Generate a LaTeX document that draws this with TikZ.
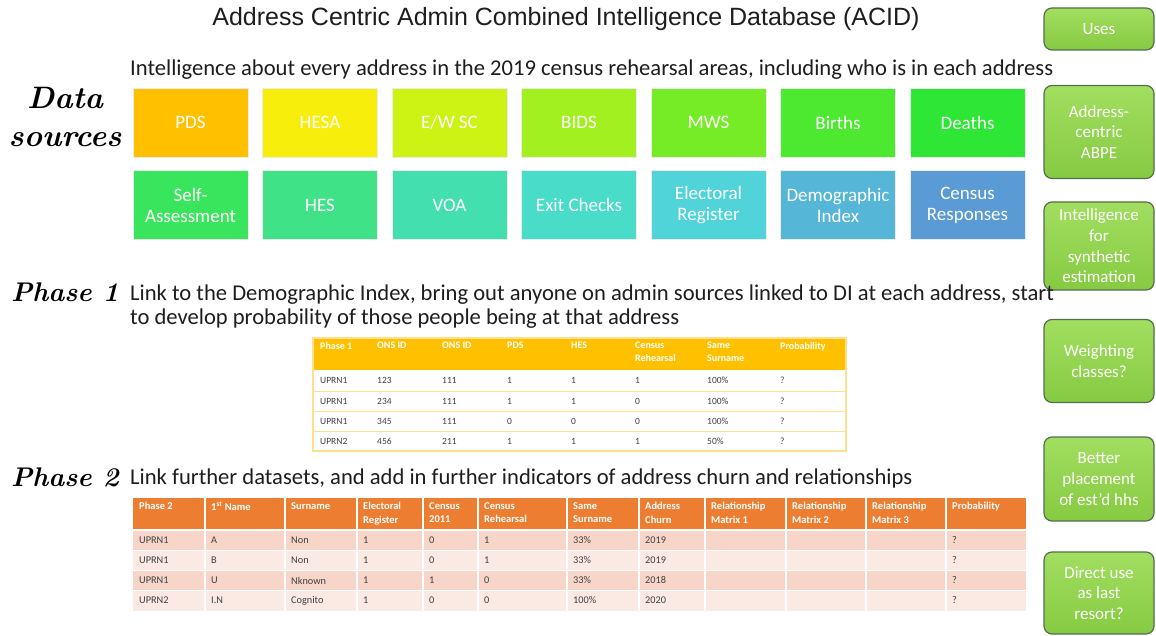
\documentclass[tikz,border=0pt]{standalone}
\usepackage{fontspec}
\setmainfont{Carlito}
\newfontfamily\titlefont{Liberation Sans}
\newfontfamily\handfont{Latin Modern Roman}
\usetikzlibrary{positioning}

% source box colours
\definecolor{cPDS}{RGB}{255,192,0}
\definecolor{cHESA}{RGB}{248,238,12}
\definecolor{cEWSC}{RGB}{205,243,21}
\definecolor{cBIDS}{RGB}{162,240,32}
\definecolor{cMWS}{RGB}{118,236,38}
\definecolor{cBirths}{RGB}{77,232,48}
\definecolor{cDeaths}{RGB}{46,230,54}
\definecolor{cSA}{RGB}{58,229,94}
\definecolor{cHES}{RGB}{63,226,135}
\definecolor{cVOA}{RGB}{68,223,174}
\definecolor{cExit}{RGB}{73,220,200}
\definecolor{cElec}{RGB}{80,212,218}
\definecolor{cDI}{RGB}{85,182,216}
\definecolor{cCens}{RGB}{90,155,213}
% use boxes
\definecolor{useTop}{RGB}{162,222,96}
\definecolor{useBot}{RGB}{134,202,66}
\definecolor{useLine}{RGB}{84,110,80}
% tables
\definecolor{pOneHead}{RGB}{255,192,0}
\definecolor{pOneLine}{RGB}{255,224,140}
\definecolor{pTwoHead}{RGB}{237,125,49}
\definecolor{pTwoRowA}{RGB}{247,214,201}
\definecolor{pTwoRowB}{RGB}{251,233,228}
\definecolor{bodyText}{RGB}{64,64,64}
\definecolor{inkText}{RGB}{30,30,30}

\tikzset{
  srcbox/.style={rectangle, draw=white!85!gray, line width=0.5pt,
    minimum width=115pt, minimum height=69pt, inner sep=2pt,
    text=white, align=center,
    font=\fontsize{19}{21}\selectfont},
  usebox/.style={rectangle, rounded corners=8pt, draw=useLine, line width=1.2pt,
    top color=useTop, bottom color=useBot,
    minimum width=110pt, inner sep=1pt, text=white, align=center,
    font=\fontsize{17}{20.7}\selectfont},
  handlabel/.style={font=\handfont\bfseries\itshape\fontsize{31}{34}\selectfont, text=black},
  phaselabel/.style={font=\handfont\bfseries\itshape\fontsize{27}{30}\selectfont, text=black},
  bodyline/.style={anchor=west, inner sep=0pt, text=inkText,
    font=\fontsize{22.6}{24}\selectfont, align=left},
  headcell/.style={anchor=north west, inner sep=0pt, text=white, align=left,
    font=\bfseries\fontsize{10.5}{13.5}\selectfont},
  cell/.style={anchor=west, inner sep=0pt, text=bodyText,
    font=\fontsize{10.3}{12}\selectfont},
}

\begin{document}
\begin{tikzpicture}[x=1pt,y=-1pt]
\useasboundingbox (0,0) rectangle (1156,636);
\fill[white] (0,0) rectangle (1156,636);

% title
\node[font=\titlefont\fontsize{25}{28}\selectfont, text=inkText] (title) at (566,19)
  {Address Centric Admin Combined Intelligence Database (ACID)};

% data sources
\node[bodyline] (intro) at (130,70)
  {Intelligence about every address in the 2019 census rehearsal areas, including who is in each address};
\node[handlabel] (dslabA) at (65,98) {Data};
\node[handlabel] (dslabB) at (65,140) {sources};

\node[srcbox, fill=cPDS]    (pds)    at (190.5,122.5) {PDS};
\node[srcbox, fill=cHESA]   (hesa)   at (320,122.5)   {HESA};
\node[srcbox, fill=cEWSC]   (ewsc)   at (449.5,122.5) {E/W SC};
\node[srcbox, fill=cBIDS]   (bids)   at (579,122.5)   {BIDS};
\node[srcbox, fill=cMWS]    (mws)    at (708.5,122.5) {MWS};
\node[srcbox, fill=cBirths] (births) at (838,122.5)   {Births};
\node[srcbox, fill=cDeaths] (deaths) at (967.5,122.5) {Deaths};

\node[srcbox, fill=cSA]   (sa)   at (190.5,205) {Self-\\Assessment};
\node[srcbox, fill=cHES]  (hes)  at (320,205)   {HES};
\node[srcbox, fill=cVOA]  (voa)  at (449.5,205) {VOA};
\node[srcbox, fill=cExit] (exit) at (579,205)   {Exit Checks};
\node[srcbox, fill=cElec] (elec) at (708.5,205) {Electoral\\Register};
\node[srcbox, fill=cDI]   (di)   at (838,205)   {Demographic\\Index};
\node[srcbox, fill=cCens] (cens) at (967.5,205) {Census\\Responses};

% uses column
\node[usebox, minimum height=42pt] (uses)   at (1099,29)  {Uses};
\node[usebox, minimum height=93pt] (abpe)   at (1099,132) {Address-\\centric\\ABPE};
\node[usebox, minimum height=88pt] (synth)  at (1099,246) {Intelligence\\for\\synthetic\\estimation};
\node[usebox, minimum height=83pt] (weight) at (1099,361) {Weighting\\classes?};
\node[usebox, minimum height=84pt] (place)  at (1099,479) {Better\\placement\\of est'd hhs};
\node[usebox, minimum height=82pt] (direct) at (1099,593) {Direct use\\as last\\resort?};

% phase 1
\node[phaselabel] (ponelab) at (65,292) {Phase 1};
\node[bodyline, anchor=north west] (ponetext) at (130,285)
  {Link to the Demographic Index, bring out anyone on admin sources linked to DI at each address, start\\
   to develop probability of those people being at that address};

% phase 1 table
\fill[pOneHead] (313,338) rectangle (846,370);
\foreach \yy in {391,411,431}
  \draw[pOneLine, line width=1pt] (313,\yy) -- (846,\yy);
\draw[pOneLine, line width=1.2pt] (313,338) rectangle (846,451);
\foreach \t [count=\c] in {Phase 1,ONS ID,ONS ID,PDS,HES,{Census\\Rehearsal},{Same\\Surname},Probability}{
  \pgfmathsetmacro\cx{{313,370,435,500,564,628,700,773}[\c-1]}
  \node[headcell, font=\bfseries\fontsize{10}{13}\selectfont] (pone-h-\c) at (\cx+7,342) {\t};
}
\foreach \yy/\row [count=\r] in {
    380.5/{UPRN1,123,111,1,1,1,100\%,?},
    401/{UPRN1,234,111,1,1,0,100\%,?},
    421/{UPRN1,345,111,0,0,0,100\%,?},
    441/{UPRN2,456,211,1,1,1,50\%,?}}{
  \foreach \t [count=\c] in \row {
    \pgfmathsetmacro\cx{{313,370,435,500,564,628,700,773}[\c-1]}
    \node[cell, font=\fontsize{9.5}{11}\selectfont] (pone-\r-\c) at (\cx+7,\yy) {\t};
  }
}

% phase 2
\node[phaselabel] (ptwolab) at (65,477) {Phase 2};
\node[bodyline] (ptwotext) at (130,478)
  {Link further datasets, and add in further indicators of address churn and relationships};

% phase 2 table
\fill[pTwoHead] (133,498) rectangle (1026,529);
\fill[pTwoRowA] (133,529) rectangle (1026,550.5);
\fill[pTwoRowB] (133,550.5) rectangle (1026,570.5);
\fill[pTwoRowA] (133,570.5) rectangle (1026,590.5);
\fill[pTwoRowB] (133,590.5) rectangle (1026,611);
\draw[white, line width=2.5pt] (133,530) -- (1026,530);
\foreach \yy in {550.5,570.5,590.5}
  \draw[white, line width=1.2pt] (133,\yy) -- (1026,\yy);
\foreach \xx in {205,285,357,423,478,567,639,705,786,866,946}
  \draw[white, line width=1.5pt] (\xx,498) -- (\xx,611);
\foreach \t [count=\c] in {Phase 2,{1\textsuperscript{st} Name},Surname,{Electoral\\Register},{Census\\2011},
    {Census\\Rehearsal},{Same\\Surname},{Address\\Churn},{Relationship\\Matrix 1},
    {Relationship\\Matrix 2},{Relationship\\Matrix 3},Probability}{
  \pgfmathsetmacro\cx{{133,205,285,357,423,478,567,639,705,786,866,946}[\c-1]}
  \node[headcell] (ptwo-h-\c) at (\cx+6,502) {\t};
}
\foreach \yy/\row [count=\r] in {
    540.5/{UPRN1,A,Non,1,0,1,33\%,2019,{},{},{},?},
    560.5/{UPRN1,B,Non,1,0,1,33\%,2019,{},{},{},?},
    580.5/{UPRN1,U,Nknown,1,1,0,33\%,2018,{},{},{},?},
    600.5/{UPRN2,I.N,Cognito,1,0,0,100\%,2020,{},{},{},?}}{
  \foreach \t [count=\c] in \row {
    \pgfmathsetmacro\cx{{133,205,285,357,423,478,567,639,705,786,866,946}[\c-1]}
    \node[cell] (ptwo-\r-\c) at (\cx+6,\yy) {\t};
  }
}
\end{tikzpicture}
\end{document}
